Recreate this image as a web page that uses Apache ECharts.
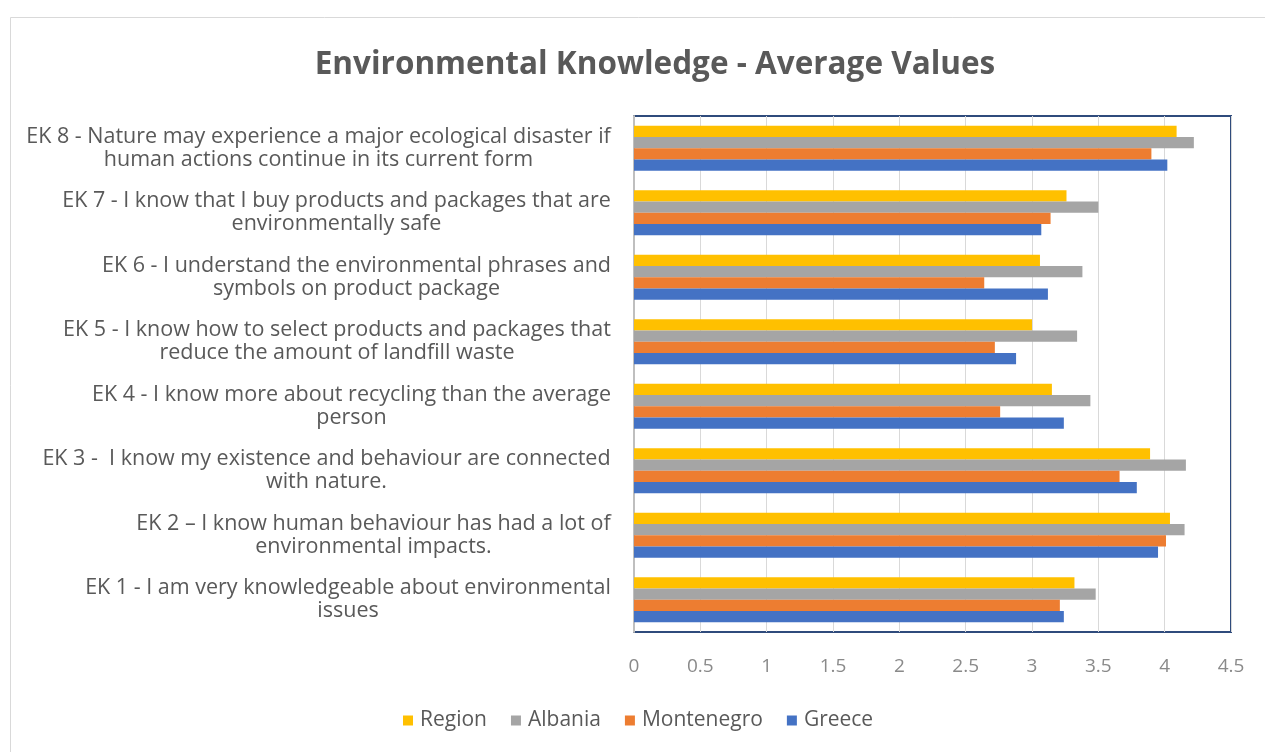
<!DOCTYPE html>
<html>
<head>
<meta charset="utf-8">
<script src="https://cdn.jsdelivr.net/npm/echarts@6/dist/echarts.min.js"></script>
<style>
  html, body { margin: 0; padding: 0; background: #ffffff; }
  #chart { width: 1265px; height: 752px; }
</style>
</head>
<body>
<div id="chart"></div>
<script>
// Survey items, bottom to top on the category axis
const categories = [
  'EK 1 - I am very knowledgeable about environmental\nissues',
  'EK 2 \u2013 I know human behaviour has had a lot of\nenvironmental impacts.',
  'EK 3 -  I know my existence and behaviour are connected\nwith nature.',
  'EK 4 - I know more about recycling than the average\nperson',
  'EK 5 - I know how to select products and packages that\nreduce the amount of landfill waste',
  'EK 6 - I understand the environmental phrases and\nsymbols on product package',
  'EK 7 - I know that I buy products and packages that are\nenvironmentally safe',
  'EK 8 - Nature may experience a major ecological disaster if\nhuman actions continue in its current form'
];

// Average values per item (EK 1 .. EK 8)
const region     = [3.32, 4.04, 3.89, 3.15, 3.00, 3.06, 3.26, 4.09];
const albania    = [3.48, 4.15, 4.16, 3.44, 3.34, 3.38, 3.50, 4.22];
const montenegro = [3.21, 4.01, 3.66, 2.76, 2.72, 2.64, 3.14, 3.90];
const greece     = [3.24, 3.95, 3.79, 3.24, 2.88, 3.12, 3.07, 4.02];

const seriesNames = ['Region', 'Albania', 'Montenegro', 'Greece'];
const seriesColors = ['#ffc000', '#a5a5a5', '#ed7d31', '#4472c4'];
const seriesValues = [region, albania, montenegro, greece];

const xTicks = [0, 0.5, 1, 1.5, 2, 2.5, 3, 3.5, 4, 4.5];

const fontFamily = 'Open Sans';
const labelSize = 21.5;
const textColor = '#595959';

// Measure each label block so its lines can be centred inside a right-aligned box
const ctx = document.createElement('canvas').getContext('2d');
ctx.font = labelSize + 'px "' + fontFamily + '"';
const rich = {};
categories.forEach((c, i) => {
  const w = Math.max(...c.split('\n').map(s => ctx.measureText(s).width));
  rich['c' + i] = {
    width: Math.ceil(w) + 2, align: 'center',
    fontFamily: fontFamily, fontSize: labelSize, color: textColor, lineHeight: 23
  };
});

const chart = echarts.init(document.getElementById('chart'), null, { renderer: 'canvas' });

chart.setOption({
  backgroundColor: '#ffffff',
  animation: false,
  title: {
    text: 'Environmental Knowledge - Average Values',
    left: 650, top: 44, textAlign: 'center',
    textStyle: { fontFamily: fontFamily, fontSize: 31.5, fontWeight: 'bold', color: textColor }
  },
  graphic: [{
    type: 'rect', left: 8, top: 15, silent: true,
    shape: { width: 1262, height: 740 },
    style: { fill: 'none', stroke: '#d9d9d9', lineWidth: 1 }
  }],
  legend: {
    data: seriesNames,
    top: 705, left: 398,
    itemWidth: 10, itemHeight: 10, itemGap: 24,
    icon: 'rect',
    textStyle: { fontFamily: fontFamily, fontSize: 21, color: textColor, padding: [0, 0, 0, 2] }
  },
  grid: {
    left: 634, right: 34, top: 116, bottom: 120,
    show: true, borderColor: '#2f4b7c', borderWidth: 2, backgroundColor: 'transparent'
  },
  xAxis: {
    type: 'value', min: 0, max: 4.5, interval: 0.5,
    axisLine: { show: false },
    axisTick: { show: false },
    splitLine: { lineStyle: { color: '#d9d9d9', width: 1 } },
    axisLabel: {
      margin: 25,
      fontFamily: fontFamily, fontSize: 19, color: '#8a8a8a',
      formatter: v => xTicks.includes(v) ? String(v) : ''
    }
  },
  yAxis: {
    type: 'category', data: categories,
    axisLine: { show: true, lineStyle: { color: '#bfbfbf', width: 2 } },
    axisTick: { show: false },
    axisLabel: {
      margin: 22,
      interval: 0,
      formatter: (v, idx) => v.split('\n').map(s => '{c' + idx + '|' + s + '}').join('\n'),
      rich: rich
    }
  },
  series: seriesNames.map((name, i) => ({
    name: name,
    type: 'bar',
    data: seriesValues[i],
    barGap: '0%',
    barCategoryGap: '30%',
    itemStyle: { color: seriesColors[i] }
  }))
});
</script>
</body>
</html>
